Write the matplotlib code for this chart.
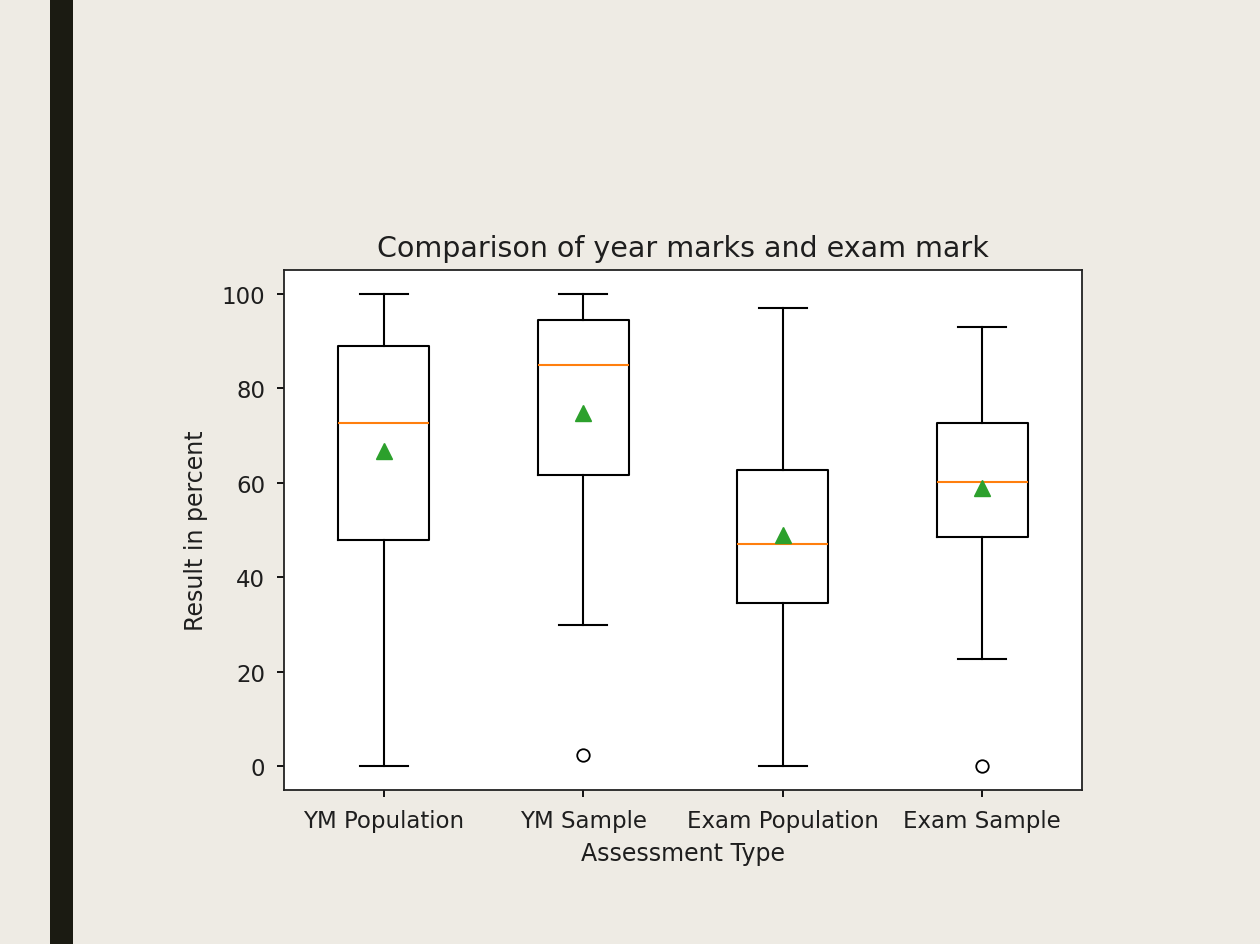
import matplotlib
matplotlib.use('Agg')
import matplotlib.pyplot as plt
from matplotlib.patches import Rectangle

# Box plot statistics (percent)
labels = ['YM Population', 'YM Sample', 'Exam Population', 'Exam Sample']
whis_lo = [0, 29.9, 0, 22.7]
q1 = [47.9, 61.7, 34.5, 48.5]
medians = [72.7, 84.8, 47.0, 60.2]
q3 = [89.0, 94.5, 62.7, 72.7]
whis_hi = [100, 100, 97.0, 93.0]
means = [66.7, 74.8, 48.9, 58.9]
fliers = [[], [2.5], [], [0]]

stats = []
for i, lab in enumerate(labels):
    stats.append({'label': lab, 'whislo': whis_lo[i], 'q1': q1[i], 'med': medians[i],
                  'q3': q3[i], 'whishi': whis_hi[i], 'mean': means[i], 'fliers': fliers[i]})

txt = '#1e1e1e'
fig = plt.figure(figsize=(12.6, 9.45), dpi=100)
fig.patch.set_facecolor('#eeebe4')
# dark bar on the slide's left edge
fig.patches.append(Rectangle((50 / 1260, 0), 23 / 1260, 1, transform=fig.transFigure,
                             facecolor='#1b1b12', edgecolor='none'))

ax = fig.add_axes([284 / 1260, 1 - 791 / 945, 798 / 1260, 520 / 945])
ax.set_facecolor('white')
lw = 1.5
ax.bxp(stats, showmeans=True, widths=0.455, capwidths=0.24,
       boxprops=dict(linewidth=lw, color='black'),
       whiskerprops=dict(linewidth=lw, color='black'),
       capprops=dict(linewidth=lw, color='black'),
       medianprops=dict(linewidth=lw, color='#ff7f0e'),
       meanprops=dict(marker='^', markerfacecolor='#2ca02c', markeredgecolor='#2ca02c', markersize=11),
       flierprops=dict(marker='o', markerfacecolor='none', markeredgecolor='black',
                       markersize=9, markeredgewidth=1.3))

ax.set_ylim(-5, 105)
ax.set_yticks([0, 20, 40, 60, 80, 100])
ax.tick_params(labelsize=16.5, width=1.3, length=5, labelcolor=txt)
ax.tick_params(axis='y', pad=8.5)
ax.tick_params(axis='x', pad=8.5)
for s in ax.spines.values():
    s.set_linewidth(1.3)
    s.set_color('#222222')
ax.set_title('Comparison of year marks and exam mark', fontsize=20.5, pad=10, color=txt)
ax.set_xlabel('Assessment Type', fontsize=17, color=txt, labelpad=7)
ax.set_ylabel('Result in percent', fontsize=17, color=txt, labelpad=10)

fig.savefig('out.png', dpi=100, facecolor=fig.get_facecolor())
